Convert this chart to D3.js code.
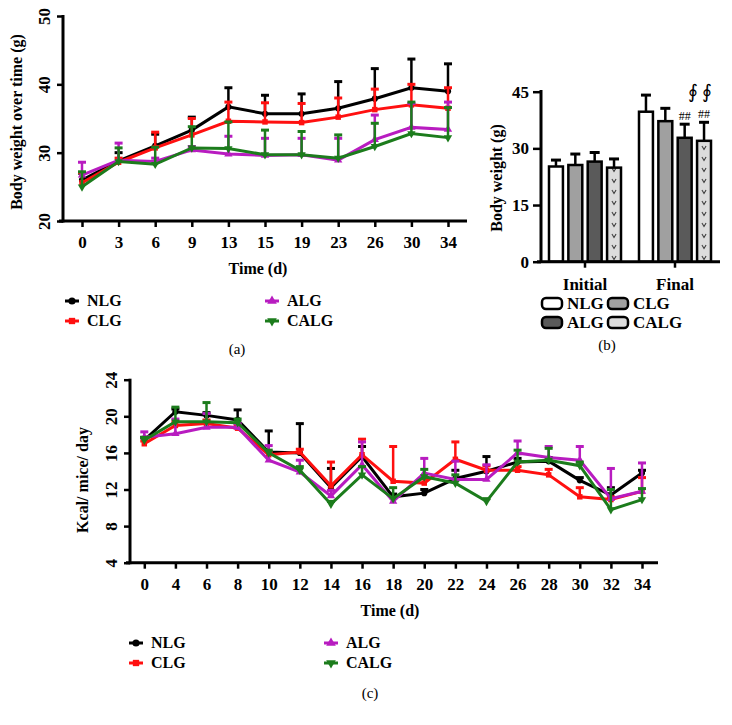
<!doctype html>
<html>
<head>
<meta charset="UTF-8">
<title>body weight and intake</title>
<script src="https://d3js.org/d3.v7.min.js"></script>
<style>
  body { margin: 0; background: #fff; }
  svg text { font-family: "Liberation Serif", "DejaVu Serif", serif; }
  .bold { font-weight: bold; }
</style>
</head>
<body>
<svg width="732" height="725"></svg>
<script>
// ---- data ----
var groups = ["NLG", "CLG", "ALG", "CALG"];
var colors = ["#000000", "#ff1010", "#b81cc0", "#1c7c1c"];

// panel (a): body weight over time
var weekDays = [0, 3, 6, 9, 13, 15, 19, 23, 26, 30, 34];
var nlgW  = [26.0, 28.8, 31.0, 33.3, 36.7, 35.7, 35.7, 36.5, 37.9, 39.5, 39.0];
var clgW  = [25.6, 28.6, 30.7, 32.6, 34.6, 34.5, 34.4, 35.2, 36.3, 37.0, 36.5];
var algW  = [26.7, 28.9, 28.7, 30.4, 29.8, 29.6, 29.7, 28.9, 31.9, 33.7, 33.4];
var calgW = [25.0, 28.7, 28.3, 30.7, 30.6, 29.7, 29.7, 29.2, 30.9, 32.8, 32.2];
var nlgWErr  = [1.0, 1.2, 1.7, 1.9, 2.8, 2.7, 2.9, 3.9, 4.4, 4.2, 4.0];
var clgWErr  = [1.5, 0.6, 2.3, 2.4, 2.8, 2.8, 2.8, 2.8, 3.0, 3.0, 3.0];
var algWErr  = [1.9, 2.5, 0.5, 0.5, 2.6, 2.5, 2.4, 3.2, 3.6, 3.5, 4.0];
var calgWErr = [2.2, 2.0, 2.5, 3.1, 3.9, 3.6, 3.4, 3.4, 3.4, 4.6, 4.4];

// panel (b): initial / final body weight
var phases = ["Initial", "Final"];
var nlgB  = [25.2, 39.7], clgB  = [25.6, 37.2], algB  = [26.5, 32.8], calgB = [24.9, 32.0];
var nlgBErr = [1.7, 4.4], clgBErr = [2.9, 3.4], algBErr = [2.4, 3.6], calgBErr = [2.3, 4.9];
var barFills = ["#ffffff", "#a0a0a0", "#5a5a5a", "url(#vpat)"];

// panel (c): Kcal / mice / day
var kDays = [0, 4, 6, 8, 10, 12, 14, 16, 18, 20, 22, 24, 26, 28, 30, 32, 34];
var nlgK  = [17.4, 20.5, 20.1, 19.6, 16.1, 16.0, 12.2, 15.6, 11.2, 11.6, 13.2, 14.0, 15.0, 15.1, 13.0, 11.4, 13.8];
var clgK  = [17.0, 19.0, 19.2, 18.7, 15.8, 16.1, 12.4, 15.8, 12.9, 12.7, 15.3, 14.1, 14.1, 13.6, 11.2, 10.9, 11.8];
var algK  = [17.7, 18.1, 18.8, 18.8, 15.2, 13.9, 11.3, 14.7, 10.7, 13.8, 13.1, 13.1, 16.0, 15.5, 15.2, 11.0, 11.8];
var calgK = [17.4, 19.4, 19.4, 19.3, 16.0, 14.1, 10.4, 13.6, 11.0, 13.4, 12.7, 10.7, 15.0, 15.2, 14.6, 9.8, 10.9];
var nlgKErr  = [0.3, 0.3, 0.3, 1.1, 2.3, 3.2, 2.1, 1.1, 0.3, 0.4, 0.9, 1.6, 0.4, 0.4, 0.3, 0.8, 0.3];
var clgKErr  = [0.3, 0.4, 0.4, 0.3, 0.3, 0.3, 2.6, 1.7, 3.8, 0.5, 1.9, 0.5, 0.4, 0.6, 1.0, 0.3, 1.5];
var algKErr  = [0.6, 1.6, 1.5, 0.4, 1.6, 1.3, 0.6, 2.5, 0.4, 1.6, 2.0, 1.6, 1.3, 1.2, 1.5, 3.3, 3.1];
var calgKErr = [0.3, 1.6, 2.1, 0.4, 0.3, 0.4, 0.3, 0.9, 1.2, 0.8, 0.9, 0.3, 1.3, 1.3, 0.4, 2.2, 1.2];

var svg = d3.select("svg");
var symbols = [d3.symbolCircle, d3.symbolSquare, d3.symbolTriangle, d3.symbolTriangle];

function styleAxis(g) {
  g.select(".domain").remove();
  g.selectAll(".tick line").attr("stroke", "#000").attr("stroke-width", 2.5);
  g.selectAll(".tick text").attr("class", "bold").attr("fill", "#000");
}

// draw a line chart panel with up-only error bars
function linePanel(opt) {
  var x = d3.scalePoint().domain(opt.days).range(opt.xr);
  var y = d3.scaleLinear().domain(opt.yd).range(opt.yr);
  var g = svg.append("g");

  var xa = g.append("g").attr("transform", "translate(0," + opt.yr[0] + ")")
    .call(d3.axisBottom(x).tickSize(6).tickSizeOuter(0).tickPadding(6));
  styleAxis(xa);
  xa.selectAll(".tick text").attr("font-size", opt.fs).attr("dy", "0.9em");

  var ya = g.append("g").attr("transform", "translate(" + opt.ax + ",0)")
    .call(d3.axisLeft(y).tickValues(opt.yticks).tickSize(6).tickSizeOuter(0));
  styleAxis(ya);
  ya.selectAll(".tick text").attr("font-size", opt.fs)
    .attr("text-anchor", "middle").attr("x", 0).attr("dy", 0)
    .attr("transform", "translate(" + (opt.tl - opt.ax) + ",0) rotate(-90) translate(0,5)");

  g.append("line").attr("x1", opt.ax).attr("x2", opt.ax)
    .attr("y1", opt.yr[1] - 1).attr("y2", opt.yr[0] + 1.5)
    .attr("stroke", "#000").attr("stroke-width", 3);
  g.append("line").attr("x1", opt.ax - 4).attr("x2", opt.xend)
    .attr("y1", opt.yr[0]).attr("y2", opt.yr[0])
    .attr("stroke", "#000").attr("stroke-width", 3);

  opt.series.forEach(function(vals, k) {
    var errs = opt.errs[k];
    var sg = g.append("g");
    sg.selectAll("line.err").data(vals).enter().append("line")
      .attr("x1", function(d, i) { return x(opt.days[i]); })
      .attr("x2", function(d, i) { return x(opt.days[i]); })
      .attr("y1", function(d) { return y(d); })
      .attr("y2", function(d, i) { return y(d + errs[i]); })
      .attr("stroke", colors[k]).attr("stroke-width", 2.5);
    sg.selectAll("line.cap").data(vals).enter().append("line")
      .attr("x1", function(d, i) { return x(opt.days[i]) - 4; })
      .attr("x2", function(d, i) { return x(opt.days[i]) + 4; })
      .attr("y1", function(d, i) { return y(d + errs[i]); })
      .attr("y2", function(d, i) { return y(d + errs[i]); })
      .attr("stroke", colors[k]).attr("stroke-width", 3);
    sg.append("path").datum(vals)
      .attr("fill", "none").attr("stroke", colors[k]).attr("stroke-width", 3)
      .attr("d", d3.line().x(function(d, i) { return x(opt.days[i]); }).y(function(d) { return y(d); }));
    sg.selectAll("path.pt").data(vals).enter().append("path")
      .attr("transform", function(d, i) {
        return "translate(" + x(opt.days[i]) + "," + y(d) + ")" + (k === 3 ? " rotate(180)" : "");
      })
      .attr("d", d3.symbol().type(symbols[k]).size(30))
      .attr("fill", colors[k]);
  });

  g.append("text").attr("class", "bold").attr("font-size", opt.fs - 1)
    .attr("text-anchor", "middle")
    .attr("transform", "translate(" + opt.ytx + "," + opt.yty + ") rotate(-90)")
    .text(opt.ytitle);
  g.append("text").attr("class", "bold").attr("font-size", 16)
    .attr("text-anchor", "middle").attr("x", opt.xtx).attr("y", opt.xty)
    .text("Time (d)");

  // legend
  groups.forEach(function(name, k) {
    var lx = opt.legX[Math.floor(k / 2)], ly = opt.legY[k % 2];
    g.append("line").attr("x1", lx - 7).attr("x2", lx + 7).attr("y1", ly).attr("y2", ly)
      .attr("stroke", colors[k]).attr("stroke-width", 3);
    g.append("path").attr("transform", "translate(" + lx + "," + ly + ")" + (k === 3 ? " rotate(180)" : ""))
      .attr("d", d3.symbol().type(symbols[k]).size(40)).attr("fill", colors[k]);
    g.append("text").attr("class", "bold").attr("font-size", 16)
      .attr("x", lx + 15).attr("y", ly + 5).text(name);
  });
  g.append("text").attr("font-size", 15).attr("text-anchor", "middle")
    .attr("x", opt.capX).attr("y", opt.capY).text(opt.cap);
}

linePanel({
  days: weekDays, xr: [82, 448], yd: [20, 50], yr: [221, 16], yticks: [20, 30, 40, 50],
  ax: 63, xend: 467, tl: 45, fs: 17,
  series: [nlgW, clgW, algW, calgW], errs: [nlgWErr, clgWErr, algWErr, calgWErr],
  ytitle: "Body weight over time (g)", ytx: 22, yty: 122,
  xtx: 258, xty: 274,
  legX: [72, 272], legY: [301, 321], cap: "(a)", capX: 237, capY: 354
});

linePanel({
  days: kDays, xr: [144.3, 642], yd: [4, 24], yr: [562.7, 379.7], yticks: [4, 8, 12, 16, 20, 24],
  ax: 130, xend: 658, tl: 112, fs: 17,
  series: [nlgK, clgK, algK, calgK], errs: [nlgKErr, clgKErr, algKErr, calgKErr],
  ytitle: "Kcal/ mice/ day", ytx: 88, yty: 480,
  xtx: 390, xty: 616,
  legX: [136, 331], legY: [643, 663], cap: "(c)", capX: 370, capY: 698
});

// ---- panel (b): bars ----
var bVals = [nlgB, clgB, algB, calgB];
var bErrs = [nlgBErr, clgBErr, algBErr, calgBErr];
var x0 = d3.scaleBand().domain(phases).range([540, 720]).paddingInner(0.2).paddingOuter(0.1);
var x1 = d3.scaleBand().domain(groups).range([0, x0.bandwidth()]).paddingInner(0.28);
var yb = d3.scaleLinear().domain([0, 45]).range([261.7, 91.7]);

var defs = svg.append("defs");
function vPattern(id, ph) {
  var p = defs.append("pattern").attr("id", id).attr("patternUnits", "userSpaceOnUse")
    .attr("width", 19.2).attr("height", 11)
    .attr("x", x0(ph) + x1("CALG") + x1.bandwidth() / 2 - 9.6);
  p.append("rect").attr("width", 19.2).attr("height", 11).attr("fill", "#dcdcdc");
  p.append("path").attr("d", "M7.6,3 L9.6,6.5 L11.6,3").attr("fill", "none")
    .attr("stroke", "#333").attr("stroke-width", 1);
}
vPattern("vpat", "Initial");
vPattern("vpat2", "Final");

var gb = svg.append("g");
phases.forEach(function(ph, j) {
  groups.forEach(function(gname, k) {
    var v = bVals[k][j], e = bErrs[k][j];
    var bx = x0(ph) + x1(gname), bw = x1.bandwidth(), cx = bx + bw / 2;
    gb.append("line").attr("x1", cx).attr("x2", cx).attr("y1", yb(v)).attr("y2", yb(v + e))
      .attr("stroke", "#000").attr("stroke-width", 2.5);
    gb.append("line").attr("x1", cx - 5).attr("x2", cx + 5).attr("y1", yb(v + e)).attr("y2", yb(v + e))
      .attr("stroke", "#000").attr("stroke-width", 3);
    gb.append("rect").attr("x", bx).attr("y", yb(v)).attr("width", bw).attr("height", yb(0) - yb(v))
      .attr("fill", k === 3 && j === 1 ? "url(#vpat2)" : barFills[k])
      .attr("stroke", "#000").attr("stroke-width", 2.5);
  });
});

var yba = gb.append("g").attr("transform", "translate(541,0)")
  .call(d3.axisLeft(yb).tickValues([0, 15, 30, 45]).tickSize(8).tickSizeOuter(0).tickPadding(4));
styleAxis(yba);
yba.selectAll(".tick text").attr("font-size", 17);
var xba = gb.append("g").attr("transform", "translate(0,261.7)")
  .call(d3.axisBottom(x0).tickSize(6).tickSizeOuter(0).tickPadding(10));
styleAxis(xba);
xba.selectAll(".tick text").attr("font-size", 17);
gb.append("line").attr("x1", 541).attr("x2", 541).attr("y1", 90).attr("y2", 263)
  .attr("stroke", "#000").attr("stroke-width", 3);
gb.append("line").attr("x1", 537).attr("x2", 720).attr("y1", 261.7).attr("y2", 261.7)
  .attr("stroke", "#000").attr("stroke-width", 3);
gb.append("text").attr("class", "bold").attr("font-size", 16).attr("text-anchor", "middle")
  .attr("transform", "translate(502,178) rotate(-90)").text("Body weight (g)");

// significance marks
[["ALG", 4.3], ["CALG", 5.4]].forEach(function(m) {
  var k = groups.indexOf(m[0]);
  gb.append("text").attr("font-size", 12).attr("text-anchor", "middle")
    .attr("x", x0("Final") + x1(m[0]) + x1.bandwidth() / 2)
    .attr("y", yb(bVals[k][1] + m[1]) - 2).text("##");
});
gb.append("text").attr("font-size", 19).attr("text-anchor", "middle")
  .attr("x", 700).attr("y", 98).text("\u222E \u222E");

// legend (b)
groups.forEach(function(name, k) {
  var lx = [542, 608][k % 2], ly = [303, 322][Math.floor(k / 2)];
  gb.append("rect").attr("x", lx).attr("y", ly - 5).attr("width", 20).attr("height", 11).attr("rx", 4)
    .attr("fill", k === 3 ? "#dcdcdc" : barFills[k]).attr("stroke", "#000").attr("stroke-width", 2.5);
  gb.append("text").attr("class", "bold").attr("font-size", 17)
    .attr("x", lx + 25).attr("y", ly + 6).text(name);
});
gb.append("text").attr("font-size", 15).attr("text-anchor", "middle")
  .attr("x", 607).attr("y", 350).text("(b)");
</script>
</body>
</html>
